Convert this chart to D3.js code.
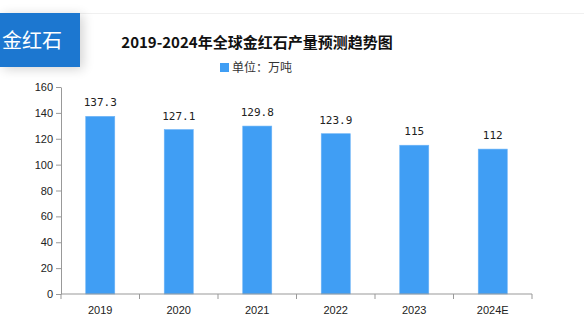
<!DOCTYPE html>
<html>
<head>
<meta charset="utf-8">
<script src="https://cdn.jsdelivr.net/npm/d3@7"></script>
<style>
  html, body { margin: 0; padding: 0; background: #fff; }
  svg { display: block; }
</style>
</head>
<body>
<svg id="chart" width="584" height="323"></svg>
<script>
const categories = ["2019", "2020", "2021", "2022", "2023", "2024E"];
const production = [137.3, 127.1, 129.8, 123.9, 115, 112];
const valueLabels = ["137.3", "127.1", "129.8", "123.9", "115", "112"];
const yTicks = [0, 20, 40, 60, 80, 100, 120, 140, 160];

const svg = d3.select("#chart");
const W = 584, H = 323;
const margin = { left: 61, right: 52, top: 87, bottom: 29 };

const defs = svg.append("defs");
const shadow = defs.append("filter").attr("id", "badgeShadow")
  .attr("x", "-30%").attr("y", "-40%").attr("width", "180%").attr("height", "200%");
shadow.append("feGaussianBlur").attr("in", "SourceAlpha").attr("stdDeviation", 6).attr("result", "b");
shadow.append("feOffset").attr("in", "b").attr("dx", 3).attr("dy", 2).attr("result", "o");
shadow.append("feComponentTransfer").attr("in", "o").attr("result", "s")
  .append("feFuncA").attr("type", "linear").attr("slope", 0.18);
const merge = shadow.append("feMerge");
merge.append("feMergeNode").attr("in", "s");
merge.append("feMergeNode").attr("in", "SourceGraphic");

// faint header rule
svg.append("line").attr("x1", 0).attr("x2", W).attr("y1", 13.5).attr("y2", 13.5)
  .attr("stroke", "#f0f0f0").attr("stroke-width", 1);

// section badge
svg.append("rect").attr("x", 0).attr("y", 13).attr("width", 80).attr("height", 54)
  .attr("fill", "#1f77d0").attr("filter", "url(#badgeShadow)");
svg.append("text").attr("x", 2).attr("y", 41).attr("dy", "0.35em")
  .attr("fill", "#fff").attr("font-family", "'Noto Sans CJK SC', sans-serif")
  .attr("font-size", 20).text("金红石");

// title
svg.append("text").attr("x", 257).attr("y", 43).attr("dy", "0.35em")
  .attr("text-anchor", "middle").attr("font-family", "'Noto Sans CJK SC', sans-serif")
  .attr("font-weight", "bold").attr("font-size", 15).attr("fill", "#111")
  .text("2019-2024年全球金红石产量预测趋势图");

// legend
svg.append("rect").attr("x", 220).attr("y", 63).attr("width", 9).attr("height", 9).attr("fill", "#409ef4");
svg.append("text").attr("x", 232).attr("y", 68).attr("dy", "0.35em")
  .attr("font-family", "'Noto Sans CJK SC', sans-serif").attr("font-size", 12)
  .attr("fill", "#333").text("单位：万吨");

const x = d3.scaleBand().domain(categories)
  .range([margin.left, W - margin.right]).paddingInner(0.63).paddingOuter(0.315);
const y = d3.scaleLinear().domain([0, 160]).range([H - margin.bottom, margin.top]);

// y axis
const yAxis = svg.append("g").attr("transform", `translate(${margin.left},0)`)
  .call(d3.axisLeft(y).tickValues(yTicks).tickSize(5).tickSizeOuter(0).tickPadding(3));
yAxis.select(".domain").attr("stroke", "#999");
yAxis.selectAll(".tick line").attr("stroke", "#999");
yAxis.selectAll(".tick text").attr("font-family", "'Liberation Sans', Arial, sans-serif")
  .attr("font-size", 11).attr("fill", "#222");

// bars
svg.append("g").selectAll("rect").data(production).join("rect")
  .attr("x", (d, i) => x(categories[i]))
  .attr("y", d => y(d))
  .attr("width", x.bandwidth())
  .attr("height", d => y(0) - y(d))
  .attr("fill", "#409ef4")
  .attr("stroke", "#6cb4f7").attr("stroke-width", 0.6);

// value labels
svg.append("g").selectAll("text").data(production).join("text")
  .attr("x", (d, i) => x(categories[i]) + x.bandwidth() / 2)
  .attr("y", d => y(d) - 10)
  .attr("text-anchor", "middle")
  .attr("font-family", "'DejaVu Sans Mono', 'Liberation Mono', monospace")
  .attr("font-size", 11).attr("fill", "#222")
  .text((d, i) => valueLabels[i]);

// x axis with boundary ticks between categories
const xAxisG = svg.append("g").attr("transform", `translate(0,${y(0)})`);
xAxisG.append("line").attr("x1", margin.left).attr("x2", W - margin.right)
  .attr("stroke", "#999");
const step = (W - margin.right - margin.left) / categories.length;
xAxisG.selectAll("line.tk").data(d3.range(categories.length + 1)).join("line")
  .attr("class", "tk")
  .attr("x1", i => margin.left + i * step).attr("x2", i => margin.left + i * step)
  .attr("y1", 0).attr("y2", 5).attr("stroke", "#999");
xAxisG.selectAll("text").data(categories).join("text")
  .attr("x", d => x(d) + x.bandwidth() / 2).attr("y", 16).attr("dy", "0.35em")
  .attr("text-anchor", "middle")
  .attr("font-family", "'Liberation Sans', Arial, sans-serif")
  .attr("font-size", 11).attr("fill", "#222").text(d => d);
</script>
</body>
</html>
